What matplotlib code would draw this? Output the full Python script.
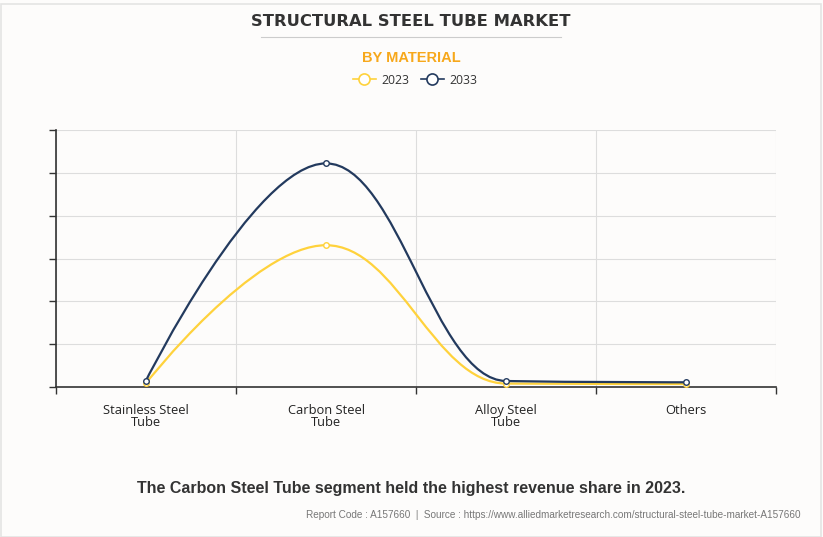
"""Structural steel tube market by material: 2023 vs 2033 spline chart."""

import matplotlib

matplotlib.use("Agg")
import matplotlib.pyplot as plt
from matplotlib.lines import Line2D
from matplotlib.patches import PathPatch, Rectangle
from matplotlib.path import Path

categories = ["Stainless Steel\nTube", "Carbon Steel\nTube", "Alloy Steel\nTube", "Others"]
years = ["2023", "2033"]
values_2023 = [0.09, 3.31, 0.08, 0.07]
values_2033 = [0.15, 5.22, 0.14, 0.11]
colors = {"2023": "#ffd23c", "2033": "#233a5e"}

BG = "#fdfcfb"
TEXT = "#333333"
SANS = ["Liberation Sans", "DejaVu Sans"]
UI = ["Open Sans", "DejaVu Sans"]


def spline_path(xs, ys, smoothing=1.5):
    """Highcharts-style spline: cubic bezier segments through every point."""
    denom = smoothing + 1
    n = len(xs)
    verts = [(xs[0], ys[0])]
    codes = [Path.MOVETO]
    right = [None] * n
    for i in range(1, n):
        px, py = xs[i], ys[i]
        lx, ly = px, py
        if i < n - 1:
            ax_, ay_ = xs[i - 1], ys[i - 1]
            nx, ny = xs[i + 1], ys[i + 1]
            lx = (smoothing * px + ax_) / denom
            ly = (smoothing * py + ay_) / denom
            rx = (smoothing * px + nx) / denom
            ry = (smoothing * py + ny) / denom
            if rx != lx:
                corr = (ry - ly) * (rx - px) / (rx - lx) + py - ry
                ly += corr
                ry += corr
            if ly > ay_ and ly > py:
                ly = max(ay_, py)
                ry = 2 * py - ly
            elif ly < ay_ and ly < py:
                ly = min(ay_, py)
                ry = 2 * py - ly
            if ry > ny and ry > py:
                ry = max(ny, py)
                ly = 2 * py - ry
            elif ry < ny and ry < py:
                ry = min(ny, py)
                ly = 2 * py - ry
            right[i] = (rx, ry)
        prev = right[i - 1] if right[i - 1] is not None else (xs[i - 1], ys[i - 1])
        verts += [prev, (lx, ly), (px, py)]
        codes += [Path.CURVE4] * 3
    return Path(verts, codes)


fig = plt.figure(figsize=(8.23, 5.37), dpi=100, facecolor=BG)
fig.add_artist(Rectangle((0.5 / 823, 0.5 / 537), 820 / 823, 533 / 537, transform=fig.transFigure,
                         facecolor="none", edgecolor="#e4e4e4", lw=1.2))
ax = fig.add_axes([56 / 823, 150 / 537, 720 / 823, 257 / 537])
ax.set_facecolor(BG)

x = list(range(len(categories)))
for year, vals in [("2023", values_2023), ("2033", values_2033)]:
    c = colors[year]
    ax.add_patch(PathPatch(spline_path(x, vals), facecolor="none", edgecolor=c,
                           lw=1.6, zorder=3))
    ax.plot(x, vals, ls="none", marker="o", ms=4, mfc="white", mec=c, mew=1.0, zorder=4)

ax.set_xlim(-0.5, 3.5)
ax.set_ylim(0, 6)
ax.set_yticks(range(7))
ax.set_yticklabels([])
ax.set_xticks([-0.5, 0.5, 1.5, 2.5, 3.5])
ax.set_xticklabels([])
ax.grid(True, color="#dddddd", lw=0.8, zorder=0)
ax.tick_params(axis="both", length=5, color=TEXT, width=1)
for s in ["top", "right"]:
    ax.spines[s].set_visible(False)
for s in ["left", "bottom"]:
    ax.spines[s].set_color(TEXT)
    ax.spines[s].set_linewidth(1.2)

for xi, lab in zip(x, categories):
    ax.text(xi, -0.4, lab, ha="center", va="top", fontsize=9.3, color="#222222",
            linespacing=0.9, family=UI, transform=ax.transData)

fig.text(411 / 823, 1 - 21 / 537, "STRUCTURAL STEEL TUBE MARKET", ha="center",
         va="center", fontsize=11.8, fontweight="bold", color=TEXT)
fig.add_artist(Line2D([261 / 823, 561 / 823], [1 - 37 / 537] * 2, color="#cccccc", lw=0.8))
fig.text(411 / 823, 1 - 58 / 537, "BY MATERIAL", ha="center", va="center",
         fontsize=10.5, fontweight="bold", color="#f7a81b", family=SANS)

handles = [Line2D([], [], color=colors[y], lw=1.2, marker="o", ms=8, mfc="white",
                  mec=colors[y], mew=1.2) for y in years]
fig.legend(handles, years, loc="center", bbox_to_anchor=(415 / 823, 1 - 80 / 537),
           ncol=2, frameon=False, prop={"family": UI, "size": 8.8}, handlelength=1.9,
           columnspacing=0.9, handletextpad=0.45, labelcolor=TEXT)

fig.text(411 / 823, 1 - 488 / 537,
         "The Carbon Steel Tube segment held the highest revenue share in 2023.",
         ha="center", va="center", fontsize=11.5, fontweight="bold", color=TEXT, family=SANS)
fig.text(801 / 823, 1 - 515 / 537,
         "Report Code : A157660  |  Source : https://www.alliedmarketresearch.com/"
         "structural-steel-tube-market-A157660",
         ha="right", va="center", fontsize=7.2, color="#777777", family=SANS)

fig.savefig("out.png", dpi=100, facecolor=BG)
